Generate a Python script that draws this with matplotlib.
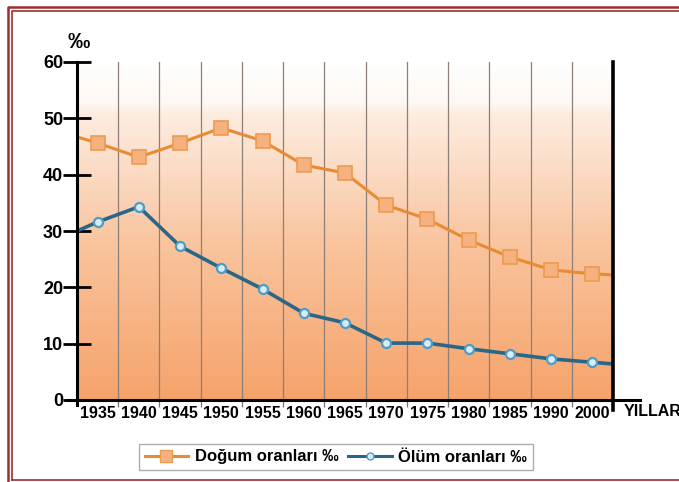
import matplotlib
matplotlib.use("Agg")
import matplotlib.pyplot as plt
import numpy as np
from matplotlib.lines import Line2D
from matplotlib.colors import LinearSegmentedColormap

years = ["1935", "1940", "1945", "1950", "1955", "1960", "1965",
         "1970", "1975", "1980", "1985", "1990", "2000"]
birth = [45.6, 43.1, 45.6, 48.3, 46.0, 41.7, 40.3, 34.6, 32.1, 28.4, 25.4, 23.1, 22.4]
death = [31.6, 34.3, 27.3, 23.4, 19.7, 15.4, 13.7, 10.1, 10.1, 9.1, 8.2, 7.3, 6.7]
# values where the lines meet the left and right edges of the plot
birth_edges = [46.7, 22.2]
death_edges = [30.0, 6.4]
yticks = [0, 10, 20, 30, 40, 50, 60]

FONT = ["Liberation Sans Narrow", "Liberation Sans", "DejaVu Sans"]
plt.rcParams['font.family'] = FONT

W, H = 679, 482
fig = plt.figure(figsize=(W / 100, H / 100), dpi=100)
fig.patch.set_facecolor("white")

ax = fig.add_axes([77 / W, 1 - 400 / H, (613 - 77) / W, (400 - 62) / H])
ax.set_xlim(-0.5, len(years) - 0.5)
ax.set_ylim(0, 60)
ax.set_facecolor("none")

# gradient background
cmap = LinearSegmentedColormap.from_list(
    "bg", [(0.0, "#F6A36B"), (0.45, "#F9C39C"), (0.85, "#FDEDE1"), (0.88, "#FEF8F3"), (1.0, "#FFFFFF")])
grad = np.linspace(0, 1, 256).reshape(-1, 1)
ax.imshow(grad, cmap=cmap, aspect="auto", origin="lower",
          extent=(-0.5, len(years) - 0.5, 0, 60), zorder=0)

# vertical grid lines between categories
for i in range(len(years) - 1):
    ax.axvline(i + 0.5, color="#8C7F78", lw=0.9, zorder=1)

xs = np.arange(len(years))
xb = np.concatenate([[-0.5], xs, [len(years) - 0.5]])
yb = np.concatenate([[birth_edges[0]], birth, [birth_edges[1]]])
yd = np.concatenate([[death_edges[0]], death, [death_edges[1]]])

ax.plot(xb, yb, color="#E98A34", lw=2.2, marker="s", markersize=10,
        markerfacecolor="#F5B27E", markeredgecolor="#EE9A52", markeredgewidth=1.2,
        markevery=list(range(1, len(years) + 1)), zorder=3, clip_on=True)
ax.plot(xb, yd, color="#2A6787", lw=2.6, marker="o", markersize=6.5,
        markerfacecolor="#D8ECF6", markeredgecolor="#4C9CC8", markeredgewidth=1.6,
        markevery=list(range(1, len(years) + 1)), zorder=3, clip_on=True)

for s in ax.spines.values():
    s.set_visible(False)

# axes lines
ax.add_line(Line2D([0, 0], [-0.015, 1.0], transform=ax.transAxes, color="black", lw=2.2, clip_on=False, zorder=5))
ax.add_line(Line2D([1, 1], [-0.03, 1.0], transform=ax.transAxes, color="black", lw=2.6, clip_on=False, zorder=5))
ax.add_line(Line2D([-0.018, 1.05], [0, 0], transform=ax.transAxes, color="black", lw=2.2, clip_on=False, zorder=5))

ax.set_yticks(yticks)
ax.set_yticklabels([str(v) for v in yticks], fontsize=13, fontweight="bold")
ax.tick_params(axis="y", direction="inout", length=20, width=2, pad=0, color="black")

ax.set_xticks(xs)
ax.set_xticklabels(years, fontsize=11.5, fontweight="bold")
ax.set_xticks(np.arange(len(years) - 1) + 0.5, minor=True)
ax.tick_params(axis="x", which="major", length=0, pad=4)
ax.tick_params(axis="x", which="minor", length=5, width=0.9, color="#777777", direction="out")

fig.text(68 / W, 1 - 42 / H, "‰", fontsize=16, fontweight="bold", va="center", ha="left")
fig.text(624 / W, 1 - 412 / H, "YILLAR", fontsize=11.5, fontweight="bold", va="center", ha="left")

handles = [Line2D([], [], color="#E98A34", lw=2.2, marker="s", markersize=9,
                  markerfacecolor="#F5B27E", markeredgecolor="#EE9A52"),
           Line2D([], [], color="#2A6787", lw=2.2, marker="o", markersize=5,
                  markerfacecolor="#D8ECF6", markeredgecolor="#4C9CC8")]
leg = fig.legend(handles, ["Doğum oranları ‰", "Ölüm oranları ‰"], ncol=2,
                 loc="center", bbox_to_anchor=(336 / W, 1 - 457 / H), frameon=True,
                 fancybox=False, prop={"family": FONT, "weight": "bold", "size": 12},
                 handlelength=2.6, columnspacing=0.6, handletextpad=0.4, borderpad=0.35)
leg.get_frame().set_edgecolor("#999999")
leg.get_frame().set_linewidth(1.0)

# double red border (image is cropped on the right and bottom)
RED = "#9E2F2F"
def fline(xp, yp, lw):
    fig.add_artist(Line2D([x / W for x in xp], [1 - y / H for y in yp],
                          transform=fig.transFigure, color=RED, lw=lw))
fline([8, 8, W + 5], [H + 5, 6.5, 6.5], 1.8)
fline([12, 12, W + 5], [480, 11, 11], 1.2)
fline([12, W + 5], [480, 480], 1.2)

fig.savefig("out.png", dpi=100)
